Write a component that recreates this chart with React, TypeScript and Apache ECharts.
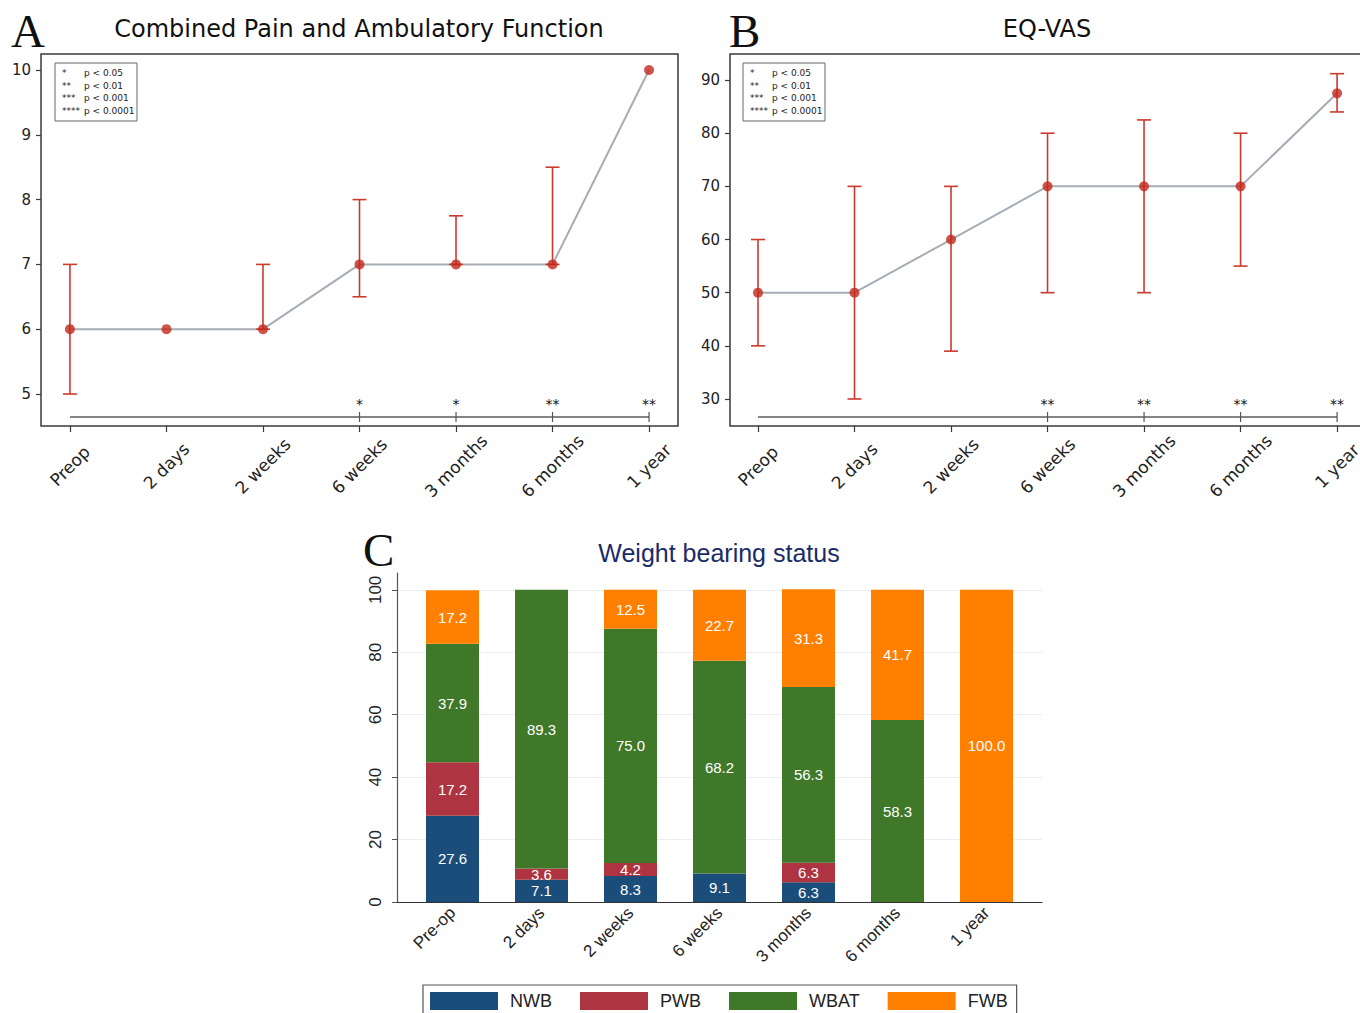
import React, { useEffect, useRef } from "react";
import * as echarts from "echarts";

// ---------- data ----------
const timeCatsAB = ["Preop", "2 days", "2 weeks", "6 weeks", "3 months", "6 months", "1 year"];
const painMean = [6, 6, 6, 7, 7, 7, 10];
const painLow = [5, 6, 6, 6.5, 7, 7, 10];
const painHigh = [7, 6, 7, 8, 7.75, 8.5, 10];
const painSig = ["", "", "", "*", "*", "**", "**"];
const painTicks = [5, 6, 7, 8, 9, 10];
const painRange = [4.506, 10.247];
const painXRange = [-0.3, 6.3];
const painSigLevel = 4.645;

const vasMean = [50, 50, 60, 70, 70, 70, 87.5];
const vasLow = [40, 30, 39, 50, 50, 55, 84];
const vasHigh = [60, 70, 70, 80, 82.5, 80, 91.2];
const vasSig = ["", "", "", "**", "**", "**", "**"];
const vasTicks = [30, 40, 50, 60, 70, 80, 90];
const vasRange = [24.92, 94.9];
const vasXRange = [-0.29, 6.31];
const vasSigLevel = 26.6;

const sigLegendStars = ["*", "**", "***", "****"];
const sigLegendText = ["p < 0.05", "p < 0.01", "p < 0.001", "p < 0.0001"];

const wbCats = ["Pre-op", "2 days", "2 weeks", "6 weeks", "3 months", "6 months", "1 year"];
const wbNames = ["NWB", "PWB", "WBAT", "FWB"];
const nwb = [27.6, 7.1, 8.3, 9.1, 6.3, 0, 0];
const pwb = [17.2, 3.6, 4.2, 0, 6.3, 0, 0];
const wbat = [37.9, 89.3, 75.0, 68.2, 56.3, 58.3, 0];
const fwb = [17.2, 0, 12.5, 22.7, 31.3, 41.7, 100.0];
const wbTicks = [0, 20, 40, 60, 80, 100];
const wbRange = [0, 105.4];

// ---------- styles ----------
const MPL_FONT = "'DejaVu Sans', Verdana, sans-serif";
const STATA_FONT = "'Liberation Sans Narrow', 'Arial Narrow', 'Liberation Sans', Arial, sans-serif";
const SERIF = "'Liberation Serif', 'DejaVu Serif', serif";
const RED = "#c3281c";
const ERR_RED = "#cc3a2e";
const LINE_GREY = "#a6adb5";
const FRAME = "#3a3a3a";
const WB_COLORS = ["#1b4d7a", "#ad3440", "#40782a", "#ff8000"];

const idx = timeCatsAB.map((_, i) => i);

function errorBarRender(params: any, api: any) {
  const x = api.value(0);
  const lo = api.value(1);
  const hi = api.value(2);
  if (hi - lo < 1e-9) return null;
  const top = api.coord([x, hi]);
  const bot = api.coord([x, lo]);
  const hw = 7;
  const style = { stroke: ERR_RED, lineWidth: 1.6 };
  return {
    type: "group",
    children: [
      { type: "line", shape: { x1: top[0], y1: top[1], x2: bot[0], y2: bot[1] }, style },
      { type: "line", shape: { x1: top[0] - hw, y1: top[1], x2: top[0] + hw, y2: top[1] }, style },
      { type: "line", shape: { x1: bot[0] - hw, y1: bot[1], x2: bot[0] + hw, y2: bot[1] }, style },
    ],
  };
}

function makeSigRender(stars: string[]) {
  return (params: any, api: any) => {
    const i = api.value(0);
    const p = api.coord([i, api.value(1)]);
    return {
      type: "group",
      children: [
        { type: "line", shape: { x1: p[0], y1: p[1] - 5, x2: p[0], y2: p[1] + 5 }, style: { stroke: "#555", lineWidth: 1.2 } },
        {
          type: "text",
          x: p[0],
          y: p[1] - 6,
          style: { text: stars[i], align: "center", verticalAlign: "bottom", fontSize: 14, fontFamily: MPL_FONT, fill: "#111" },
        },
      ],
    };
  };
}

function lineXAxis(gridIndex: number, range: number[]) {
  return {
    type: "value",
    gridIndex,
    min: range[0],
    max: range[1],
    axisLine: { show: false, onZero: false },
    splitLine: { show: false },
    axisTick: { show: true, length: 6, customValues: idx, lineStyle: { color: FRAME, width: 1.2 } },
    axisLabel: {
      customValues: idx,
      rotate: 45,
      align: "center",
      verticalAlign: "middle",
      margin: 40,
      fontSize: 17,
      fontFamily: MPL_FONT,
      color: "#222",
      formatter: (v: number) => timeCatsAB[Math.round(v)] ?? "",
    },
  };
}

function lineYAxis(gridIndex: number, range: number[], ticks: number[]) {
  return {
    type: "value",
    gridIndex,
    min: range[0],
    max: range[1],
    axisLine: { show: false, onZero: false },
    splitLine: { show: false },
    axisTick: { show: true, length: 5, customValues: ticks, lineStyle: { color: FRAME, width: 1.2 } },
    axisLabel: { customValues: ticks, fontSize: 15, fontFamily: MPL_FONT, color: "#222", margin: 10 },
  };
}

function panelSeries(axisIdx: number, mean: number[], low: number[], high: number[], sig: string[], sigLevel: number) {
  return [
    {
      type: "line",
      xAxisIndex: axisIdx,
      yAxisIndex: axisIdx,
      data: mean.map((v, i) => [i, v]),
      symbol: "none",
      lineStyle: { color: LINE_GREY, width: 2 },
      z: 2,
      silent: true,
    },
    {
      type: "custom",
      xAxisIndex: axisIdx,
      yAxisIndex: axisIdx,
      data: mean.map((_, i) => [i, low[i], high[i]]),
      encode: { x: 0, y: [1, 2] },
      renderItem: errorBarRender,
      z: 3,
      silent: true,
    },
    {
      type: "scatter",
      xAxisIndex: axisIdx,
      yAxisIndex: axisIdx,
      data: mean.map((v, i) => [i, v]),
      symbol: "circle",
      symbolSize: 10,
      itemStyle: { color: RED },
      z: 4,
      silent: true,
    },
    {
      type: "line",
      xAxisIndex: axisIdx,
      yAxisIndex: axisIdx,
      data: [
        [0, sigLevel],
        [mean.length - 1, sigLevel],
      ],
      symbol: "none",
      lineStyle: { color: "#858585", width: 2 },
      z: 2,
      silent: true,
    },
    {
      type: "custom",
      xAxisIndex: axisIdx,
      yAxisIndex: axisIdx,
      data: sig.map((s, i) => (s ? [i, sigLevel] : null)).filter((d) => d !== null),
      encode: { x: 0, y: 1 },
      renderItem: makeSigRender(sig),
      z: 3,
      silent: true,
    },
  ];
}

function sigLegendGraphic(x: number, y: number) {
  const children: any[] = [
    { type: "rect", shape: { x, y, width: 82, height: 58 }, style: { fill: "#fff", stroke: "#666", lineWidth: 1 } },
  ];
  sigLegendStars.forEach((s, i) => {
    const cy = y + 10 + i * 12.6;
    children.push({
      type: "text",
      style: { text: s, x: x + 7, y: cy, fontSize: 9, fontFamily: MPL_FONT, fill: "#222", verticalAlign: "middle" },
    });
    children.push({
      type: "text",
      style: { text: sigLegendText[i], x: x + 29, y: cy, fontSize: 9, fontFamily: MPL_FONT, fill: "#222", verticalAlign: "middle" },
    });
  });
  return { type: "group", children };
}

const wbData = [nwb, pwb, wbat, fwb];

export default function App() {
  const ref = useRef<HTMLDivElement>(null);

  useEffect(() => {
    if (!ref.current) return;
    const chart = echarts.init(ref.current, undefined, { renderer: "svg" });
    const option: any = {
      animation: false,
      backgroundColor: "#ffffff",
      grid: [
        { left: 41, top: 54, width: 637, height: 372, show: true, borderColor: FRAME, borderWidth: 1.5, backgroundColor: "transparent" },
        { left: 730, top: 54, width: 637, height: 372, show: true, borderColor: FRAME, borderWidth: 1.5, backgroundColor: "transparent" },
        // bars grid
        { left: 408, top: 573, width: 623, height: 329 },
        // frame grid for panel C (axis lines, ticks, grid lines)
        { left: 397, top: 573, width: 645, height: 329 },
      ],
      xAxis: [
        lineXAxis(0, painXRange),
        lineXAxis(1, vasXRange),
        {
          type: "category",
          gridIndex: 2,
          data: wbCats,
          boundaryGap: true,
          axisLine: { show: false },
          axisTick: { show: false },
          splitLine: { show: false },
          axisLabel: {
            rotate: 45,
            margin: 8,
            fontSize: 17,
            fontFamily: STATA_FONT,
            color: "#222",
          },
        },
        {
          type: "value",
          gridIndex: 3,
          min: 0,
          max: 1,
          axisLine: { show: true, onZero: false, lineStyle: { color: "#333", width: 1.2 } },
          axisTick: { show: false },
          axisLabel: { show: false },
          splitLine: { show: false },
        },
      ],
      yAxis: [
        lineYAxis(0, painRange, painTicks),
        lineYAxis(1, vasRange, vasTicks),
        {
          type: "value",
          gridIndex: 2,
          min: wbRange[0],
          max: wbRange[1],
          show: false,
        },
        {
          type: "value",
          gridIndex: 3,
          min: wbRange[0],
          max: wbRange[1],
          axisLine: { show: true, onZero: false, lineStyle: { color: "#555", width: 1.2 } },
          axisTick: { show: true, length: 5, customValues: wbTicks, lineStyle: { color: "#555" } },
          splitLine: { show: true, lineStyle: { color: "#eaeef1", width: 1 } },
          axisLabel: {
            customValues: wbTicks,
            rotate: 90,
            margin: 13,
            fontSize: 17,
            fontFamily: STATA_FONT,
            color: "#222",
          },
        },
      ],
      legend: {
        data: wbNames,
        left: 423,
        top: 985,
        orient: "horizontal",
        icon: "rect",
        itemWidth: 68,
        itemHeight: 18,
        itemGap: 28,
        padding: [7, 9, 7, 7],
        borderColor: "#555",
        borderWidth: 1.2,
        selectedMode: false,
        textStyle: { fontSize: 18, fontFamily: STATA_FONT, color: "#222", padding: [0, 0, 0, 7] },
      },
      series: [
        ...panelSeries(0, painMean, painLow, painHigh, painSig, painSigLevel),
        ...panelSeries(1, vasMean, vasLow, vasHigh, vasSig, vasSigLevel),
        ...wbNames.map((name, k) => ({
          type: "bar",
          name,
          xAxisIndex: 2,
          yAxisIndex: 2,
          stack: "wb",
          barWidth: 53,
          data: wbData[k],
          itemStyle: { color: WB_COLORS[k] },
          label: {
            show: true,
            position: "inside",
            color: "#ffffff",
            fontSize: 15,
            fontFamily: STATA_FONT,
            formatter: (p: any) => (p.value > 0 ? Number(p.value).toFixed(1) : ""),
          },
          z: 3,
          silent: true,
        })),
      ],
      graphic: [
        { type: "text", style: { text: "A", x: 11, y: 31, fontSize: 47, fontFamily: SERIF, fill: "#111", verticalAlign: "middle" } },
        { type: "text", style: { text: "B", x: 729, y: 31, fontSize: 47, fontFamily: SERIF, fill: "#111", verticalAlign: "middle" } },
        { type: "text", style: { text: "C", x: 363, y: 550, fontSize: 47, fontFamily: SERIF, fill: "#111", verticalAlign: "middle" } },
        {
          type: "text",
          style: { text: "Combined Pain and Ambulatory Function", x: 359, y: 29, fontSize: 24, fontFamily: MPL_FONT, fill: "#111", align: "center", verticalAlign: "middle" },
        },
        {
          type: "text",
          style: { text: "EQ-VAS", x: 1047, y: 29, fontSize: 24, fontFamily: MPL_FONT, fill: "#111", align: "center", verticalAlign: "middle" },
        },
        {
          type: "text",
          style: { text: "Weight bearing status", x: 719, y: 553, fontSize: 25, fontFamily: STATA_FONT, fill: "#1b2b68", align: "center", verticalAlign: "middle" },
        },
        sigLegendGraphic(55, 63),
        sigLegendGraphic(743, 63),
      ],
    };
    chart.setOption(option);
    return () => chart.dispose();
  }, []);

  return (
    <div style={{ position: "absolute", left: 0, top: 0, width: 1360, height: 1013, overflow: "hidden", background: "#fff" }}>
      <div ref={ref} style={{ position: "absolute", left: 0, top: 0, width: 1400, height: 1013 }} />
    </div>
  );
}
